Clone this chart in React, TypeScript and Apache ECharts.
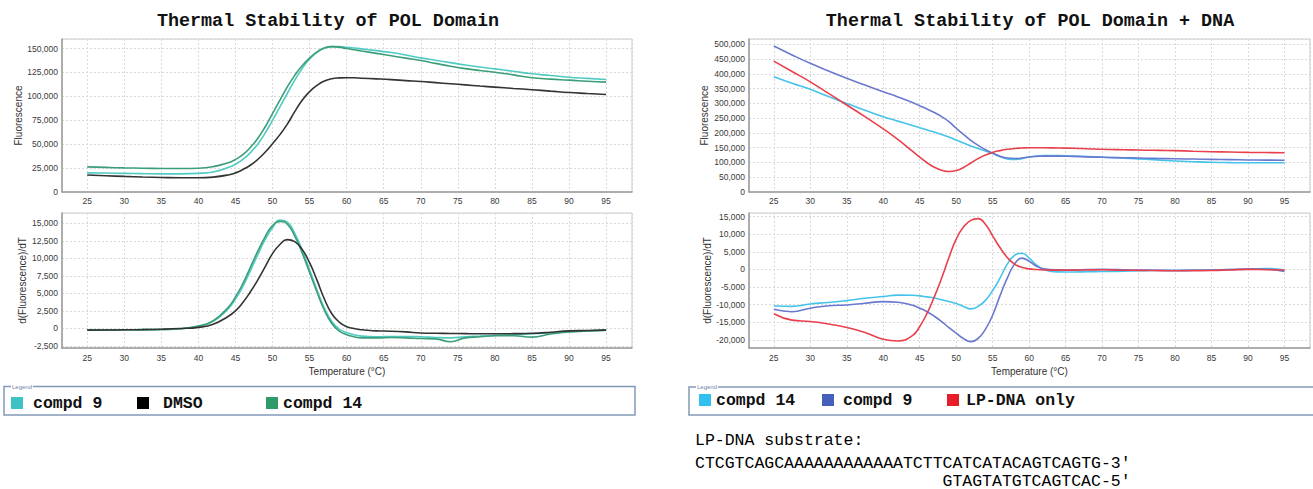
import { useEffect, useRef } from "react";
import * as echarts from "echarts";

// Shared temperature grid (°C)
const temperatures = [25, 27.5, 30, 32.5, 35, 37.5, 40, 42, 44, 45, 46, 47, 48, 49, 50, 51, 52, 53, 54, 55, 56, 57, 58, 59, 60, 61, 62, 64, 66, 68, 70, 72, 74, 76, 78, 80, 82.5, 85, 87.5, 90, 92.5, 95];

// POL Domain – Fluorescence
const polFluorCompd9 = [20000, 19800, 19500, 19200, 19000, 19000, 19500, 21000, 25500, 29000, 34000, 41000, 50000, 61500, 75000, 89000, 103000, 117000, 129000, 139000, 146000, 150500, 152000, 152000, 151400, 150600, 149700, 147800, 145800, 143200, 140300, 137800, 135300, 132800, 130700, 128800, 126200, 123600, 121800, 120000, 118800, 117700];
const polFluorDMSO = [17700, 17000, 16300, 15700, 15200, 14900, 14900, 15600, 17800, 20000, 23500, 28000, 34000, 41500, 50500, 60000, 71000, 84000, 96000, 105000, 111500, 116000, 118500, 119300, 119500, 119400, 119000, 118300, 117500, 116500, 115600, 114400, 113200, 112000, 110800, 109700, 108300, 107000, 105500, 104000, 103000, 102000];
const polFluorCompd14 = [26300, 25700, 25200, 24900, 24600, 24500, 24800, 26500, 30500, 34000, 39000, 46500, 56000, 68000, 82000, 96000, 110000, 122000, 132000, 140000, 146500, 150500, 152000, 151500, 150000, 148800, 147500, 145000, 142500, 140000, 137500, 134500, 131500, 129000, 127000, 125300, 122500, 119400, 118000, 117000, 115800, 114900];

// POL Domain – d(Fluorescence)/dT
const polDerivCompd9 = [-250, -230, -200, -180, -150, -50, 300, 1000, 2800, 4200, 6000, 8200, 10500, 12700, 14400, 15500, 15200, 13600, 11200, 8400, 5500, 2900, 1000, -100, -600, -900, -1100, -1200, -1150, -1150, -1200, -1300, -1350, -1200, -1100, -1000, -900, -800, -650, -480, -350, -250];
const polDerivDMSO = [-250, -230, -200, -170, -120, -20, 150, 600, 1700, 2500, 3700, 5200, 6900, 8800, 10700, 12000, 12700, 12400, 11300, 9400, 6900, 4200, 2100, 900, 250, 0, -200, -350, -400, -500, -650, -700, -720, -750, -770, -770, -750, -700, -550, -350, -300, -250];
const polDerivCompd14 = [-250, -230, -200, -180, -150, -40, 350, 1100, 3000, 4500, 6400, 8700, 11000, 13100, 14700, 15300, 14900, 13200, 10800, 8000, 5200, 2600, 700, -400, -900, -1200, -1350, -1350, -1300, -1350, -1450, -1500, -1900, -1350, -1200, -1050, -1050, -1250, -800, -500, -380, -250];

// POL Domain + DNA – Fluorescence
const dnaFluorCompd14 = [390000, 368000, 347600, 323000, 300000, 277000, 255000, 240000, 225000, 217700, 210000, 203000, 195000, 186000, 176000, 166000, 156000, 147000, 139000, 131000, 120000, 112000, 110000, 113000, 118500, 121500, 123000, 123500, 122000, 120000, 118000, 116000, 113500, 111000, 108000, 105000, 102500, 100500, 99500, 99000, 99000, 99000];
const dnaFluorCompd9 = [494000, 464000, 435600, 410000, 385000, 362000, 339500, 322000, 303000, 292000, 281000, 269000, 255000, 238000, 216000, 195000, 175000, 158000, 143500, 131000, 121000, 115000, 113500, 115000, 118500, 120500, 121500, 121500, 120500, 119000, 117500, 116500, 115500, 114500, 113500, 112500, 111500, 110500, 109500, 108500, 108000, 107500];
const dnaFluorLP = [443000, 408000, 373000, 334000, 294500, 255000, 214000, 178000, 138000, 118000, 99000, 84000, 74000, 69500, 72500, 83000, 98000, 113000, 125000, 134000, 140000, 144500, 147500, 149000, 150000, 150000, 149800, 149000, 148000, 146500, 144500, 143500, 142500, 141500, 140800, 140000, 138200, 136500, 135200, 134000, 133500, 133000];

// POL Domain + DNA – d(Fluorescence)/dT
const dnaDerivCompd14 = [-10300, -10500, -9800, -9400, -8850, -8200, -7700, -7300, -7350, -7500, -7800, -8100, -8600, -9100, -9700, -10500, -11200, -10500, -8800, -6000, -2500, 1500, 4000, 4600, 3200, 1300, 0, -700, -750, -650, -600, -550, -450, -350, -300, -300, -250, -150, -50, 50, 250, -150];
const dnaDerivCompd9 = [-11300, -12000, -11000, -10300, -10100, -9600, -9150, -9300, -10200, -11000, -12000, -13300, -14800, -16500, -18100, -19600, -20500, -19600, -17000, -13000, -7500, -2500, 1500, 3200, 2300, 900, 200, -100, -150, -50, 0, -50, -150, -200, -250, -300, -250, -200, -50, 100, 50, -600];
const dnaDerivLP = [-12600, -14400, -14800, -15500, -16500, -17900, -19800, -20300, -18800, -16200, -12500, -7800, -2500, 3300, 8600, 12000, 13900, 14400, 12800, 9500, 6200, 3400, 1500, 600, 150, -50, -150, -200, -200, -150, -100, -200, -250, -300, -350, -400, -350, -300, -150, 0, -100, -150];

const titles = ["Thermal Stability of POL Domain", "Thermal Stability of POL Domain + DNA"];
const dnaLines = ["LP-DNA substrate:", "CTCGTCAGCAAAAAAAAAAAATCTTCATCATACAGTCAGTG-3'", "GTAGTATGTCAGTCAC-5'"];

const SANS = "'Liberation Sans', Arial, sans-serif";
const MONO = "'Liberation Mono', 'Courier New', monospace";

export default function App() {
  const ref = useRef<HTMLDivElement>(null);

  useEffect(() => {
    if (!ref.current) return;
    const chart = echarts.init(ref.current, undefined, { renderer: "svg" });

    const fmt = (step: number) => (v: number) =>
      Math.abs(v / step - Math.round(v / step)) < 1e-6 ? Math.round(v).toLocaleString("en-US") : "";

    const grids = [
      { left: 62, top: 39, width: 570, height: 153 },
      { left: 62, top: 213, width: 570, height: 135 },
      { left: 749, top: 39, width: 568, height: 153 },
      { left: 749, top: 213, width: 568, height: 135 },
    ].map((g) => ({ ...g, show: true, borderColor: "#c9c9c9", borderWidth: 1, containLabel: false }));

    const splitLine = { show: true, lineStyle: { color: "#d9d9d9", type: [2, 2], width: 1 } };
    const axisLine = { show: true, onZero: false, lineStyle: { color: "#9c9c9c", width: 1.5 } };
    const labelStyle = { fontSize: 8.5, color: "#3a3a3a", fontFamily: SANS };
    const nameStyle = { fontSize: 10, color: "#333", fontFamily: SANS };

    const xAxes = [0, 1, 2, 3].map((i) => ({
      type: "value",
      gridIndex: i,
      min: 21.6,
      max: 98.5,
      minInterval: 5,
      maxInterval: 5,
      axisLine,
      axisTick: { show: false },
      axisLabel: { ...labelStyle, margin: i % 2 === 0 ? 4 : 5, formatter: fmt(5) },
      splitLine,
      name: i % 2 === 1 ? "Temperature (°C)" : "",
      nameLocation: "middle",
      nameGap: 18,
      nameTextStyle: nameStyle,
    }));

    const yDefs = [
      { min: 0, max: 160000, step: 25000, name: "Fluorescence", gap: 39 },
      { min: -2800, max: 16500, step: 2500, name: "d(Fluorescence)/dT", gap: 35 },
      { min: 0, max: 518000, step: 50000, name: "Fluorescence", gap: 40 },
      { min: -22300, max: 16000, step: 5000, name: "d(Fluorescence)/dT", gap: 37 },
    ];
    const yAxes = yDefs.map((d, i) => ({
      type: "value",
      gridIndex: i,
      min: d.min,
      max: d.max,
      minInterval: d.step,
      maxInterval: d.step,
      axisLine,
      axisTick: { show: false },
      axisLabel: { ...labelStyle, margin: 4, formatter: fmt(d.step) },
      splitLine,
      name: d.name,
      nameLocation: "middle",
      nameGap: d.gap,
      nameTextStyle: nameStyle,
    }));

    const mk = (name: string, idx: number, values: number[], color: string, lineColor: string) => ({
      type: "line",
      name,
      xAxisIndex: idx,
      yAxisIndex: idx,
      data: temperatures.map((t, i) => [t, values[i]]),
      smooth: 0.5,
      symbol: "none",
      showSymbol: false,
      itemStyle: { color },
      lineStyle: { color: lineColor, width: 1.6 },
      emphasis: { disabled: true },
      silent: true,
    });

    const C9L = "#3ec2c4", C9Line = "#50cbc3";
    const C14L = "#2f9a6a", C14Line = "#3c9e79";
    const DMSO = "#000000", DMSOLine = "#333333";
    const R14L = "#2fc0f0", R14Line = "#46c3ea";
    const R9L = "#4560bb", R9Line = "#6a78cf";
    const LPL = "#e61e2a", LPLine = "#e8404c";

    const series = [
      mk("compd 9", 0, polFluorCompd9, C9L, C9Line),
      mk("compd 14", 0, polFluorCompd14, C14L, C14Line),
      mk("DMSO", 0, polFluorDMSO, DMSO, DMSOLine),
      mk("compd 9", 1, polDerivCompd9, C9L, C9Line),
      mk("compd 14", 1, polDerivCompd14, C14L, C14Line),
      mk("DMSO", 1, polDerivDMSO, DMSO, DMSOLine),
      mk("compd 14", 2, dnaFluorCompd14, R14L, R14Line),
      mk("compd 9", 2, dnaFluorCompd9, R9L, R9Line),
      mk("LP-DNA only", 2, dnaFluorLP, LPL, LPLine),
      mk("compd 14", 3, dnaDerivCompd14, R14L, R14Line),
      mk("compd 9", 3, dnaDerivCompd9, R9L, R9Line),
      mk("LP-DNA only", 3, dnaDerivLP, LPL, LPLine),
    ];

    const legendText = { fontFamily: MONO, fontWeight: "bold", fontSize: 16.5, color: "#111" };
    const legendItem = (name: string, color: string, left: number, top: number, padLeft: number) => ({
      show: true,
      selectedMode: false,
      left,
      top,
      padding: 0,
      itemWidth: 12,
      itemHeight: 12,
      icon: "rect",
      data: [{ name, icon: "rect", itemStyle: { color, borderWidth: 0 } }],
      textStyle: { ...legendText, padding: [0, 0, 0, padLeft] },
    });

    const legends = [
      legendItem("compd 9", C9L, 11, 394.5, 5),
      legendItem("DMSO", DMSO, 137, 394.5, 9),
      legendItem("compd 14", C14L, 266, 394.5, 0),
      legendItem("compd 14", R14L, 699, 391.5, 0),
      legendItem("compd 9", R9L, 822, 391.5, 4),
      legendItem("LP-DNA only", LPL, 947, 391.5, 2),
    ];

    const boxStroke = "#8299b8";
    const dnaStyle = { fontSize: 16.5, fontFamily: MONO, fill: "#000", verticalAlign: "middle" };
    const graphic = [
      { type: "rect", shape: { x: 4, y: 386.5, width: 631, height: 28.5 }, style: { fill: "none", stroke: boxStroke, lineWidth: 1.5 } },
      { type: "text", x: 11, y: 386.5, style: { text: "Legend", fontSize: 6, fontFamily: SANS, fill: "#6d86ab", backgroundColor: "#fff", padding: [0, 1], verticalAlign: "middle" } },
      { type: "rect", shape: { x: 689, y: 387, width: 640, height: 28 }, style: { fill: "none", stroke: boxStroke, lineWidth: 1.5 } },
      { type: "text", x: 696, y: 387, style: { text: "Legend", fontSize: 6, fontFamily: SANS, fill: "#6d86ab", backgroundColor: "#fff", padding: [0, 1], verticalAlign: "middle" } },
      { type: "text", x: 695, y: 440, style: { ...dnaStyle, text: dnaLines[0] } },
      { type: "text", x: 695, y: 463, style: { ...dnaStyle, text: dnaLines[1] } },
      { type: "text", x: 695 + 25 * 9.9, y: 481, style: { ...dnaStyle, text: dnaLines[2] } },
    ];

    const titleStyle = { fontFamily: MONO, fontWeight: "bold", fontSize: 18.4, color: "#111" };

    chart.setOption({
      animation: false,
      backgroundColor: "#ffffff",
      title: [
        { text: titles[0], left: 328, top: 12, textAlign: "center", padding: 0, textStyle: titleStyle },
        { text: titles[1], left: 1030, top: 12, textAlign: "center", padding: 0, textStyle: titleStyle },
      ],
      grid: grids,
      xAxis: xAxes,
      yAxis: yAxes,
      legend: legends,
      series,
      graphic,
    } as any);

    return () => chart.dispose();
  }, []);

  return <div ref={ref} style={{ position: "absolute", left: 0, top: 0, width: 1313, height: 489 }} />;
}
